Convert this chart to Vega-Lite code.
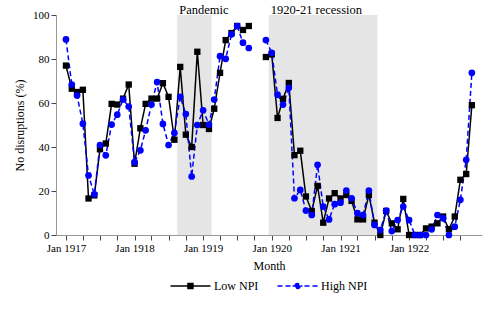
{
  "$schema": "https://vega.github.io/schema/vega-lite/v6.json",
  "width": 426,
  "height": 220,
  "autosize": "none",
  "padding": {"left": 56, "top": 15, "right": 16, "bottom": 77},
  "background": "white",
  "config": {
    "font": "Liberation Serif",
    "view": {"stroke": null},
    "axis": {
      "labelFont": "Liberation Serif",
      "titleFont": "Liberation Serif",
      "labelFontSize": 11,
      "titleFontSize": 12,
      "titleFontWeight": "normal",
      "labelColor": "black",
      "titleColor": "black",
      "domainColor": "#999999",
      "tickColor": "#444444",
      "grid": false,
      "tickSize": 5
    },
    "legend": {"labelFont": "Liberation Serif", "labelFontSize": 12, "labelColor": "black"}
  },
  "datasets": {
    "bands": [
      {"date": "1918-08-16", "end": "1919-02-15", "label": "Pandemic"},
      {"date": "1919-12-16", "end": "1921-07-16", "label": "1920-21 recession"}
    ],
    "main": [
      {"date": "1917-01-01", "series": "Low NPI", "value": 77},
      {"date": "1917-02-01", "series": "Low NPI", "value": 66.5},
      {"date": "1917-03-01", "series": "Low NPI", "value": 65},
      {"date": "1917-04-01", "series": "Low NPI", "value": 66},
      {"date": "1917-05-01", "series": "Low NPI", "value": 16.6},
      {"date": "1917-06-01", "series": "Low NPI", "value": 18},
      {"date": "1917-07-01", "series": "Low NPI", "value": 39},
      {"date": "1917-08-01", "series": "Low NPI", "value": 41.6},
      {"date": "1917-09-01", "series": "Low NPI", "value": 59.6},
      {"date": "1917-10-01", "series": "Low NPI", "value": 59.3},
      {"date": "1917-11-01", "series": "Low NPI", "value": 62},
      {"date": "1917-12-01", "series": "Low NPI", "value": 68.4},
      {"date": "1918-01-01", "series": "Low NPI", "value": 32.4},
      {"date": "1918-02-01", "series": "Low NPI", "value": 48.5},
      {"date": "1918-03-01", "series": "Low NPI", "value": 59.6},
      {"date": "1918-04-01", "series": "Low NPI", "value": 62},
      {"date": "1918-05-01", "series": "Low NPI", "value": 62},
      {"date": "1918-06-01", "series": "Low NPI", "value": 69},
      {"date": "1918-07-01", "series": "Low NPI", "value": 62.8},
      {"date": "1918-08-01", "series": "Low NPI", "value": 43.3},
      {"date": "1918-09-01", "series": "Low NPI", "value": 76.4},
      {"date": "1918-10-01", "series": "Low NPI", "value": 45.6},
      {"date": "1918-11-01", "series": "Low NPI", "value": 40},
      {"date": "1918-12-01", "series": "Low NPI", "value": 83.3},
      {"date": "1919-01-01", "series": "Low NPI", "value": 50},
      {"date": "1919-02-01", "series": "Low NPI", "value": 48.2},
      {"date": "1919-03-01", "series": "Low NPI", "value": 57.4},
      {"date": "1919-04-01", "series": "Low NPI", "value": 73.7},
      {"date": "1919-05-01", "series": "Low NPI", "value": 88.6},
      {"date": "1919-06-01", "series": "Low NPI", "value": 91.8},
      {"date": "1919-07-01", "series": "Low NPI", "value": 95},
      {"date": "1919-08-01", "series": "Low NPI", "value": 93.2},
      {"date": "1919-09-01", "series": "Low NPI", "value": 95},
      {"date": "1919-10-01", "series": "Low NPI", "value": null},
      {"date": "1919-11-01", "series": "Low NPI", "value": null},
      {"date": "1919-12-01", "series": "Low NPI", "value": 80.9},
      {"date": "1920-01-01", "series": "Low NPI", "value": 82.1},
      {"date": "1920-02-01", "series": "Low NPI", "value": 53.2},
      {"date": "1920-03-01", "series": "Low NPI", "value": 61.9},
      {"date": "1920-04-01", "series": "Low NPI", "value": 69.1},
      {"date": "1920-05-01", "series": "Low NPI", "value": 36.3},
      {"date": "1920-06-01", "series": "Low NPI", "value": 38.3},
      {"date": "1920-07-01", "series": "Low NPI", "value": 17.5},
      {"date": "1920-08-01", "series": "Low NPI", "value": 10.9},
      {"date": "1920-09-01", "series": "Low NPI", "value": 22.3},
      {"date": "1920-10-01", "series": "Low NPI", "value": 5.6},
      {"date": "1920-11-01", "series": "Low NPI", "value": 16.6},
      {"date": "1920-12-01", "series": "Low NPI", "value": 19},
      {"date": "1921-01-01", "series": "Low NPI", "value": 16.6},
      {"date": "1921-02-01", "series": "Low NPI", "value": 18.2},
      {"date": "1921-03-01", "series": "Low NPI", "value": 15.5},
      {"date": "1921-04-01", "series": "Low NPI", "value": 7.1},
      {"date": "1921-05-01", "series": "Low NPI", "value": 7.1},
      {"date": "1921-06-01", "series": "Low NPI", "value": 18.2},
      {"date": "1921-07-01", "series": "Low NPI", "value": 5.6},
      {"date": "1921-08-01", "series": "Low NPI", "value": 0},
      {"date": "1921-09-01", "series": "Low NPI", "value": 10.9},
      {"date": "1921-10-01", "series": "Low NPI", "value": 5.3},
      {"date": "1921-11-01", "series": "Low NPI", "value": 2.6},
      {"date": "1921-12-01", "series": "Low NPI", "value": 16.4},
      {"date": "1922-01-01", "series": "Low NPI", "value": 0},
      {"date": "1922-02-01", "series": "Low NPI", "value": 0},
      {"date": "1922-03-01", "series": "Low NPI", "value": 0},
      {"date": "1922-04-01", "series": "Low NPI", "value": 3},
      {"date": "1922-05-01", "series": "Low NPI", "value": 3.8},
      {"date": "1922-06-01", "series": "Low NPI", "value": 5.3},
      {"date": "1922-07-01", "series": "Low NPI", "value": 8.4},
      {"date": "1922-08-01", "series": "Low NPI", "value": 2.6},
      {"date": "1922-09-01", "series": "Low NPI", "value": 8.4},
      {"date": "1922-10-01", "series": "Low NPI", "value": 25.1},
      {"date": "1922-11-01", "series": "Low NPI", "value": 27.7},
      {"date": "1922-12-01", "series": "Low NPI", "value": 59},
      {"date": "1917-01-01", "series": "High NPI", "value": 88.9},
      {"date": "1917-02-01", "series": "High NPI", "value": 68.4},
      {"date": "1917-03-01", "series": "High NPI", "value": 63.4},
      {"date": "1917-04-01", "series": "High NPI", "value": 50.6},
      {"date": "1917-05-01", "series": "High NPI", "value": 27.1},
      {"date": "1917-06-01", "series": "High NPI", "value": 18.5},
      {"date": "1917-07-01", "series": "High NPI", "value": 40.9},
      {"date": "1917-08-01", "series": "High NPI", "value": 36.2},
      {"date": "1917-09-01", "series": "High NPI", "value": 50.2},
      {"date": "1917-10-01", "series": "High NPI", "value": 54.7},
      {"date": "1917-11-01", "series": "High NPI", "value": 61.6},
      {"date": "1917-12-01", "series": "High NPI", "value": 58.4},
      {"date": "1918-01-01", "series": "High NPI", "value": 33.1},
      {"date": "1918-02-01", "series": "High NPI", "value": 38.5},
      {"date": "1918-03-01", "series": "High NPI", "value": 47.6},
      {"date": "1918-04-01", "series": "High NPI", "value": 59.3},
      {"date": "1918-05-01", "series": "High NPI", "value": 69.5},
      {"date": "1918-06-01", "series": "High NPI", "value": 50.5},
      {"date": "1918-07-01", "series": "High NPI", "value": 40.9},
      {"date": "1918-08-01", "series": "High NPI", "value": 46.4},
      {"date": "1918-09-01", "series": "High NPI", "value": 62.8},
      {"date": "1918-10-01", "series": "High NPI", "value": 55},
      {"date": "1918-11-01", "series": "High NPI", "value": 26.6},
      {"date": "1918-12-01", "series": "High NPI", "value": 50},
      {"date": "1919-01-01", "series": "High NPI", "value": 56.7},
      {"date": "1919-02-01", "series": "High NPI", "value": 50.2},
      {"date": "1919-03-01", "series": "High NPI", "value": 61.6},
      {"date": "1919-04-01", "series": "High NPI", "value": 81.3},
      {"date": "1919-05-01", "series": "High NPI", "value": 80.1},
      {"date": "1919-06-01", "series": "High NPI", "value": 91.2},
      {"date": "1919-07-01", "series": "High NPI", "value": 95},
      {"date": "1919-08-01", "series": "High NPI", "value": 87.4},
      {"date": "1919-09-01", "series": "High NPI", "value": 85},
      {"date": "1919-10-01", "series": "High NPI", "value": null},
      {"date": "1919-11-01", "series": "High NPI", "value": null},
      {"date": "1919-12-01", "series": "High NPI", "value": 88.6},
      {"date": "1920-01-01", "series": "High NPI", "value": 82.8},
      {"date": "1920-02-01", "series": "High NPI", "value": 63.8},
      {"date": "1920-03-01", "series": "High NPI", "value": 59.3},
      {"date": "1920-04-01", "series": "High NPI", "value": 66.9},
      {"date": "1920-05-01", "series": "High NPI", "value": 16.7},
      {"date": "1920-06-01", "series": "High NPI", "value": 20.5},
      {"date": "1920-07-01", "series": "High NPI", "value": 11.1},
      {"date": "1920-08-01", "series": "High NPI", "value": 9.1},
      {"date": "1920-09-01", "series": "High NPI", "value": 31.9},
      {"date": "1920-10-01", "series": "High NPI", "value": 12.9},
      {"date": "1920-11-01", "series": "High NPI", "value": 7.1},
      {"date": "1920-12-01", "series": "High NPI", "value": 14},
      {"date": "1921-01-01", "series": "High NPI", "value": 14.7},
      {"date": "1921-02-01", "series": "High NPI", "value": 20.2},
      {"date": "1921-03-01", "series": "High NPI", "value": 16.7},
      {"date": "1921-04-01", "series": "High NPI", "value": 9.9},
      {"date": "1921-05-01", "series": "High NPI", "value": 9.1},
      {"date": "1921-06-01", "series": "High NPI", "value": 20.2},
      {"date": "1921-07-01", "series": "High NPI", "value": 4.6},
      {"date": "1921-08-01", "series": "High NPI", "value": 2.3},
      {"date": "1921-09-01", "series": "High NPI", "value": 11.1},
      {"date": "1921-10-01", "series": "High NPI", "value": 1.8},
      {"date": "1921-11-01", "series": "High NPI", "value": 6.8},
      {"date": "1921-12-01", "series": "High NPI", "value": 12.9},
      {"date": "1922-01-01", "series": "High NPI", "value": 6.8},
      {"date": "1922-02-01", "series": "High NPI", "value": 0},
      {"date": "1922-03-01", "series": "High NPI", "value": 0},
      {"date": "1922-04-01", "series": "High NPI", "value": 0},
      {"date": "1922-05-01", "series": "High NPI", "value": 2.6},
      {"date": "1922-06-01", "series": "High NPI", "value": 9.1},
      {"date": "1922-07-01", "series": "High NPI", "value": 7.6},
      {"date": "1922-08-01", "series": "High NPI", "value": 0},
      {"date": "1922-09-01", "series": "High NPI", "value": 3.8},
      {"date": "1922-10-01", "series": "High NPI", "value": 16},
      {"date": "1922-11-01", "series": "High NPI", "value": 34.2},
      {"date": "1922-12-01", "series": "High NPI", "value": 73.7}
    ]
  },
  "encoding": {
    "x": {
      "field": "date",
      "type": "temporal",
      "scale": {
        "type": "utc",
        "domain": [
          {"year": 1916, "month": 11, "date": 9, "utc": true},
          {"year": 1923, "month": 1, "date": 24, "utc": true}
        ]
      },
      "axis": {
        "title": "Month",
        "values": [
          {"year": 1917, "month": 1, "date": 1, "utc": true},
          {"year": 1917, "month": 4, "date": 1, "utc": true},
          {"year": 1917, "month": 7, "date": 1, "utc": true},
          {"year": 1917, "month": 10, "date": 1, "utc": true},
          {"year": 1918, "month": 1, "date": 1, "utc": true},
          {"year": 1918, "month": 4, "date": 1, "utc": true},
          {"year": 1918, "month": 7, "date": 1, "utc": true},
          {"year": 1918, "month": 10, "date": 1, "utc": true},
          {"year": 1919, "month": 1, "date": 1, "utc": true},
          {"year": 1919, "month": 4, "date": 1, "utc": true},
          {"year": 1919, "month": 7, "date": 1, "utc": true},
          {"year": 1919, "month": 10, "date": 1, "utc": true},
          {"year": 1920, "month": 1, "date": 1, "utc": true},
          {"year": 1920, "month": 4, "date": 1, "utc": true},
          {"year": 1920, "month": 7, "date": 1, "utc": true},
          {"year": 1920, "month": 10, "date": 1, "utc": true},
          {"year": 1921, "month": 1, "date": 1, "utc": true},
          {"year": 1921, "month": 4, "date": 1, "utc": true},
          {"year": 1921, "month": 7, "date": 1, "utc": true},
          {"year": 1921, "month": 10, "date": 1, "utc": true},
          {"year": 1922, "month": 1, "date": 1, "utc": true},
          {"year": 1922, "month": 4, "date": 1, "utc": true},
          {"year": 1922, "month": 7, "date": 1, "utc": true},
          {"year": 1922, "month": 10, "date": 1, "utc": true}
        ],
        "labelExpr": "utcmonth(datum.value) == 0 ? utcFormat(datum.value, '%b %Y') : ''",
        "labelOverlap": false,
        "labelPadding": 2,
        "titlePadding": 7
      }
    }
  },
  "layer": [
    {
      "data": {"name": "bands"},
      "mark": {"type": "rect", "color": "#e5e5e5"},
      "encoding": {"x2": {"field": "end"}}
    },
    {
      "data": {"name": "bands"},
      "mark": {"type": "text", "align": "left", "baseline": "alphabetic", "dx": 2, "dy": -1, "fontSize": 12.5, "font": "Liberation Serif", "color": "black"},
      "encoding": {
        "y": {"datum": 100, "type": "quantitative"},
        "text": {"field": "label"}
      }
    },
    {
      "data": {"name": "main"},
      "mark": {"type": "line", "strokeWidth": 1.5, "invalid": "break-paths-filter-domains"},
      "encoding": {
        "y": {
          "field": "value",
          "type": "quantitative",
          "scale": {"domain": [0, 100], "nice": false},
          "axis": {"values": [0, 20, 40, 60, 80, 100], "title": "No disruptions (%)", "labelPadding": 2, "titlePadding": 6}
        },
        "color": {
          "field": "series",
          "type": "nominal",
          "scale": {"domain": ["Low NPI", "High NPI"], "range": ["#000000", "#0000ff"]},
          "legend": {
            "orient": "none",
            "legendX": 112,
            "legendY": 265,
            "direction": "horizontal",
            "title": null,
            "labelOffset": 34,
            "columnPadding": 15,
            "symbolSize": 49,
            "symbolStrokeWidth": 1.5,
            "encode": {
              "symbols": {
                "update": {
                  "shape": {"signal": "datum.value === 'Low NPI' ? 'M-1,0H10.43M3.99,-0.71H5.41V0.71H3.99Z' : 'M-1,0H0.43M1.29,0H2.71M3.29,0H6.14M6.71,0H8.14M9,0H10.43M5.41,0A0.71,0.71,0,1,1,3.99,0A0.71,0.71,0,1,1,5.41,0Z'"},
                  "fill": {"signal": "datum.value === 'Low NPI' ? '#000000' : '#0000ff'"},
                  "stroke": {"signal": "datum.value === 'Low NPI' ? '#000000' : '#0000ff'"},
                  "strokeWidth": {"value": 1.5},
                  "opacity": {"value": 1},
                  "fillOpacity": {"value": 1}
                }
              }
            }
          }
        },
        "strokeDash": {
          "field": "series",
          "type": "nominal",
          "scale": {"domain": ["Low NPI", "High NPI"], "range": [[1, 0], [5, 3]]},
          "legend": null
        }
      }
    },
    {
      "data": {"name": "main"},
      "transform": [{"filter": "datum.series === 'Low NPI'"}],
      "mark": {"type": "point", "shape": "square", "size": 40, "filled": true, "opacity": 1, "invalid": "break-paths-filter-domains"},
      "encoding": {
        "y": {"field": "value", "type": "quantitative"},
        "color": {"field": "series", "type": "nominal"}
      }
    },
    {
      "data": {"name": "main"},
      "transform": [{"filter": "datum.series === 'High NPI'"}],
      "mark": {"type": "point", "shape": "circle", "size": 45, "filled": true, "opacity": 1, "invalid": "break-paths-filter-domains"},
      "encoding": {
        "y": {"field": "value", "type": "quantitative"},
        "color": {"field": "series", "type": "nominal"}
      }
    }
  ]
}
